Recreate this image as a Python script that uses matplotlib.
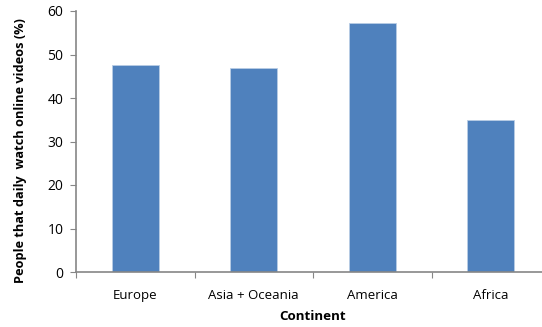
import matplotlib.pyplot as plt
from matplotlib.ticker import FixedLocator, NullFormatter

continents = ['Europe', 'Asia + Oceania', 'America', 'Africa']
daily_viewers = [47.5, 47.0, 57.2, 34.9]

plt.rcParams['font.family'] = ['Open Sans', 'DejaVu Sans']

fig = plt.figure(figsize=(5.42, 3.27), dpi=100)
ax = fig.add_axes([76 / 542, 1 - 272 / 327, 474 / 542, 261 / 327])

x = range(len(continents))
ax.bar(x, daily_viewers, width=0.4, color='#4f81bd',
       edgecolor='#b9cde5', linewidth=0.6, zorder=2)

ax.set_xlim(-0.5, 3.5)
ax.set_ylim(0, 60)
ax.set_yticks(range(0, 61, 10))
ax.set_xticks(list(x))
ax.set_xticklabels(continents, fontsize=9.5)
ax.xaxis.set_minor_locator(FixedLocator([-0.5, 0.5, 1.5, 2.5]))
ax.xaxis.set_minor_formatter(NullFormatter())
ax.tick_params(axis='x', which='major', length=0, pad=12)
ax.tick_params(axis='x', which='minor', length=4, width=0.8, color='#868686')
ax.tick_params(axis='y', length=4, width=0.8, color='#868686',
               labelsize=10, pad=5)

for side in ('top', 'right'):
    ax.spines[side].set_visible(False)
for side in ('left', 'bottom'):
    ax.spines[side].set_color('#868686')
    ax.spines[side].set_linewidth(1.2)

ax.set_ylabel('People that daily  watch online videos (%)', fontsize=9.2,
              fontweight='bold', labelpad=15)
ax.yaxis.label.set_y(0.465)
ax.set_xlabel('Continent', fontsize=9.6, fontweight='bold', labelpad=6)

fig.savefig('out.png', dpi=100)
